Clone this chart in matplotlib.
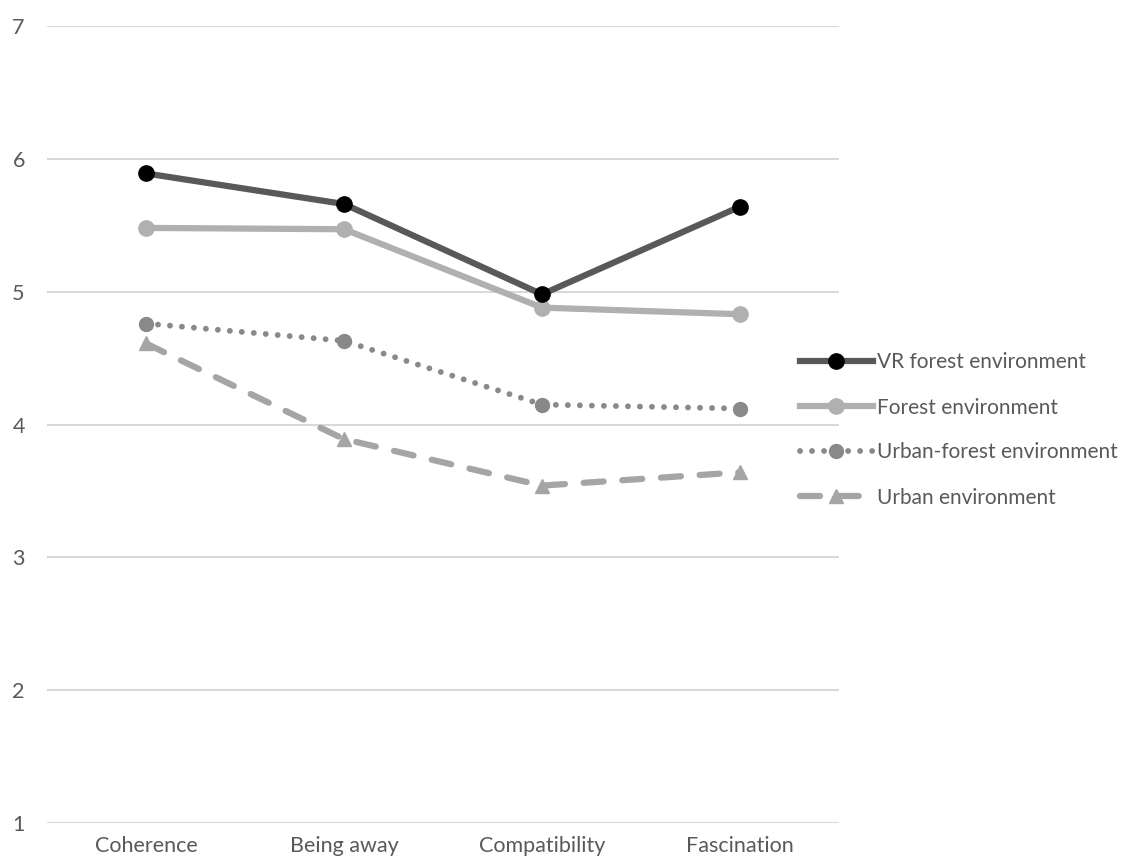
import numpy as np
import matplotlib
matplotlib.use("Agg")
import matplotlib.pyplot as plt

# データ
categories = ["Coherence", "Being away", "Compatibility", "Fascination"]
vr_forest = [5.89, 5.66, 4.98, 5.64]
forest = [5.48, 5.47, 4.88, 4.83]
urban_forest = [4.76, 4.63, 4.15, 4.12]
urban = [4.61, 3.89, 3.54, 3.64]
yticks = [1, 2, 3, 4, 5, 6, 7]

plt.rcParams['font.family'] = ['Lato', 'DejaVu Sans']
txt = "#595959"

fig = plt.figure(figsize=(11.41, 8.67), dpi=100)
ax = fig.add_axes([47/1141, 1-823/867, (839-47)/1141, (823-26)/867])

x = np.arange(len(categories))
ax.plot(x, vr_forest, color="#595959", lw=4.5, marker="o", ms=11,
        mfc="black", mec="black", label="VR forest environment", zorder=5)
ax.plot(x, forest, color="#B0B0B0", lw=4.5, marker="o", ms=11,
        mfc="#B0B0B0", mec="#B0B0B0", label="Forest environment", zorder=4)
ax.plot(x, urban_forest, color="#898989", lw=4.2, ls=(0, (0.01, 2.05)),
        dash_capstyle="round", marker="o", ms=10, mfc="#898989", mec="#898989",
        label="Urban-forest environment", zorder=3)
ax.plot(x, urban, color="#A5A5A5", lw=4.5, ls=(0, (3.2, 3.0)),
        dash_capstyle="round", marker="^", ms=10, mfc="#A5A5A5", mec="#A5A5A5",
        label="Urban environment", zorder=3)

ax.set_xlim(-0.5, 3.5)
ax.set_ylim(1, 7)
ax.set_yticks(yticks)
ax.set_xticks(x)
ax.set_xticklabels(categories)
ax.grid(axis="y", color="#D9D9D9", lw=1.5)
ax.set_axisbelow(True)
for s in ax.spines.values():
    s.set_visible(False)
ax.tick_params(length=0, labelsize=15.5, colors=txt)
ax.tick_params(axis="x", pad=9)
ax.tick_params(axis="y", pad=16)

leg = fig.legend(loc="center left", bbox_to_anchor=(781/1141, 1-430/867),
                 frameon=False, fontsize=15, handlelength=3.5,
                 handletextpad=0.2, labelspacing=1.2)
for t in leg.get_texts():
    t.set_color(txt)

fig.savefig("out.png", dpi=100)
